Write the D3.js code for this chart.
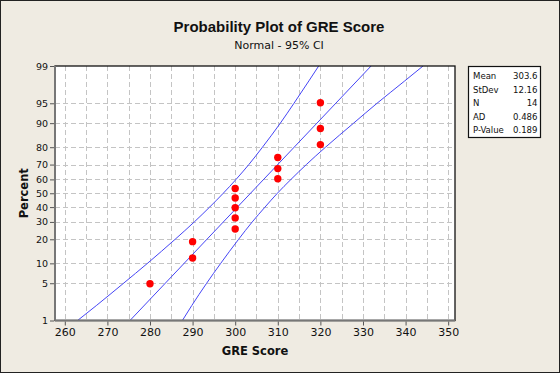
<!DOCTYPE html>
<html>
<head>
<meta charset="utf-8">
<script src="https://cdn.jsdelivr.net/npm/d3@7"></script>
<style>
  html, body { margin: 0; padding: 0; background: #fff; }
  svg { display: block; font-family: "DejaVu Sans", sans-serif; }
</style>
</head>
<body>
<svg class="chart" width="560" height="373"></svg>
<script>
// observed GRE scores and their plotted percents
const scores = [280, 290, 290, 300, 300, 300, 300, 300, 310, 310, 310, 320, 320, 320];
const percents = [4.9, 11.8, 18.8, 25.7, 32.6, 39.6, 46.5, 53.5, 60.4, 67.4, 74.3, 81.3, 88.2, 95.1];

// fitted line ends
const fitPercents = [1, 99];
const fitScores = [275.3, 331.9];

// 95% CI bands
const ciPercents = [1, 2, 5, 10, 20, 30, 40, 50, 60, 70, 80, 90, 95, 98, 99];
const ciLower = [263.0, 267.4, 273.8, 279.4, 285.9, 290.4, 294.0, 297.2, 300.2, 303.2, 306.4, 310.6, 313.8, 317.3, 319.6];
const ciUpper = [287.6, 289.8, 293.3, 296.6, 300.8, 304.0, 307.0, 309.9, 313.1, 316.7, 321.2, 327.8, 333.3, 339.8, 344.1];

const yTicks = [1, 5, 10, 20, 30, 40, 50, 60, 70, 80, 90, 95, 99];
const xTicks = [260, 270, 280, 290, 300, 310, 320, 330, 340, 350];
const xGrid = [260, 265, 270, 275, 280, 285, 290, 295, 300, 305, 310, 315, 320, 325, 330, 335, 340, 345, 350];

const statLabels = ["Mean", "StDev", "N", "AD", "P-Value"];
const statValues = ["303.6", "12.16", "14", "0.486", "0.189"];

// inverse normal cdf (Acklam)
function probit(p) {
  const a = [-39.69683028665376, 220.9460984245205, -275.9285104469687, 138.357751867269, -30.66479806614716, 2.506628277459239];
  const b = [-54.47609879822406, 161.5858368580409, -155.6989798598866, 66.80131188771972, -13.28068155288572];
  const c = [-0.007784894002430293, -0.3223964580411365, -2.400758277161838, -2.549732539343734, 4.374664141464968, 2.938163982698783];
  const d = [0.007784695709041462, 0.3224671290700398, 2.445134137142996, 3.754408661907416];
  const pl = 0.02425;
  let q, r;
  if (p < pl) {
    q = Math.sqrt(-2 * Math.log(p));
    return (((((c[0]*q+c[1])*q+c[2])*q+c[3])*q+c[4])*q+c[5]) / ((((d[0]*q+d[1])*q+d[2])*q+d[3])*q+1);
  } else if (p <= 1 - pl) {
    q = p - 0.5; r = q * q;
    return (((((a[0]*r+a[1])*r+a[2])*r+a[3])*r+a[4])*r+a[5])*q / (((((b[0]*r+b[1])*r+b[2])*r+b[3])*r+b[4])*r+1);
  }
  q = Math.sqrt(-2 * Math.log(1 - p));
  return -(((((c[0]*q+c[1])*q+c[2])*q+c[3])*q+c[4])*q+c[5]) / ((((d[0]*q+d[1])*q+d[2])*q+d[3])*q+1);
}

const svg = d3.select(".chart");
const W = 560, H = 373;
const plot = { left: 55, top: 66, right: 455, bottom: 320.5 };

svg.append("rect")
  .attr("x", 0.5).attr("y", 0.5)
  .attr("width", W - 1).attr("height", H - 1)
  .attr("fill", "#efebe2")
  .attr("stroke", "#222");

const xScale = d3.scaleLinear()
  .domain([257.7, 351.6])
  .range([plot.left, plot.right]);

const zScale = d3.scaleLinear()
  .domain([probit(0.01), probit(0.99)])
  .range([plot.bottom, plot.top]);
const yScale = p => zScale(probit(p / 100));

svg.append("rect")
  .attr("x", plot.left).attr("y", plot.top)
  .attr("width", plot.right - plot.left).attr("height", plot.bottom - plot.top)
  .attr("fill", "#fff");

svg.append("defs").append("clipPath").attr("id", "clip")
  .append("rect")
  .attr("x", plot.left).attr("y", plot.top)
  .attr("width", plot.right - plot.left).attr("height", plot.bottom - plot.top);

// grid
const grid = svg.append("g")
  .attr("stroke", "#c4c4c4")
  .attr("stroke-dasharray", "5,3")
  .attr("stroke-width", 1);

grid.selectAll("line.v")
  .data(xGrid.filter(v => xScale(v) > plot.left + 1 && xScale(v) < plot.right - 1))
  .join("line")
  .attr("class", "v")
  .attr("x1", d => Math.round(xScale(d)) + 0.5)
  .attr("x2", d => Math.round(xScale(d)) + 0.5)
  .attr("y1", plot.top).attr("y2", plot.bottom);

grid.selectAll("line.h")
  .data(yTicks.slice(1, -1))
  .join("line")
  .attr("class", "h")
  .attr("y1", d => Math.round(yScale(d)) + 0.5)
  .attr("y2", d => Math.round(yScale(d)) + 0.5)
  .attr("x1", plot.left).attr("x2", plot.right);

// lines
const lines = svg.append("g").attr("clip-path", "url(#clip)");

const line = d3.line()
  .x(d => xScale(d[0]))
  .y(d => yScale(d[1]))
  .curve(d3.curveMonotoneY);

lines.append("path")
  .datum(fitScores.map((s, i) => [s, fitPercents[i]]))
  .attr("fill", "none")
  .attr("stroke", "#4545f5")
  .attr("stroke-width", 1)
  .attr("d", line);

[ciLower, ciUpper].forEach(arr => {
  lines.append("path")
    .datum(arr.map((s, i) => [s, ciPercents[i]]))
    .attr("fill", "none")
    .attr("stroke", "#4545f5")
    .attr("stroke-width", 1)
    .attr("d", line);
});

// points
svg.append("g")
  .selectAll("circle")
  .data(scores.map((s, i) => ({ x: s, p: percents[i] })))
  .join("circle")
  .attr("cx", d => xScale(d.x))
  .attr("cy", d => yScale(d.p))
  .attr("r", 3.7)
  .attr("fill", "#ff0000");

// frame
svg.append("rect")
  .attr("x", plot.left).attr("y", plot.top)
  .attr("width", plot.right - plot.left).attr("height", plot.bottom - plot.top)
  .attr("fill", "none")
  .attr("stroke", "#111")
  .attr("stroke-width", 1.3);

svg.append("line")
  .attr("x1", plot.left).attr("x2", plot.left)
  .attr("y1", plot.top).attr("y2", plot.bottom)
  .attr("stroke", "#777").attr("stroke-width", 2);
svg.append("line")
  .attr("x1", plot.left).attr("x2", plot.right)
  .attr("y1", plot.bottom).attr("y2", plot.bottom)
  .attr("stroke", "#777").attr("stroke-width", 2);

// axes
const xAxis = d3.axisBottom(xScale)
  .tickValues(xTicks)
  .tickSize(4)
  .tickPadding(3)
  .tickFormat(d3.format("d"));

svg.append("g")
  .attr("transform", `translate(0,${plot.bottom + 1})`)
  .call(xAxis)
  .call(g => g.select(".domain").remove())
  .call(g => g.selectAll("line").attr("stroke", "#555"))
  .call(g => g.selectAll("text")
    .attr("fill", "#111")
    .style("font-family", "DejaVu Sans, sans-serif")
    .style("font-size", "11px"));

const yAxis = d3.axisLeft(zScale)
  .tickValues(yTicks.map(p => probit(p / 100)))
  .tickSize(4)
  .tickPadding(2)
  .tickFormat((d, i) => yTicks[i]);

svg.append("g")
  .attr("transform", `translate(${plot.left - 1},0)`)
  .call(yAxis)
  .call(g => g.select(".domain").remove())
  .call(g => g.selectAll("line").attr("stroke", "#555"))
  .call(g => g.selectAll("text")
    .attr("fill", "#111")
    .style("font-family", "DejaVu Sans, sans-serif")
    .style("font-size", "9.5px"));

// titles
svg.append("text")
  .attr("x", 279).attr("y", 32)
  .attr("text-anchor", "middle")
  .style("font-family", "Liberation Sans, Arial, sans-serif")
  .style("font-weight", "bold")
  .style("font-size", "15px")
  .attr("fill", "#111")
  .text("Probability Plot of GRE Score");

svg.append("text")
  .attr("x", 279).attr("y", 49)
  .attr("text-anchor", "middle")
  .style("font-family", "DejaVu Sans, sans-serif")
  .style("font-size", "11px")
  .attr("fill", "#111")
  .text("Normal - 95% CI");

svg.append("text")
  .attr("x", (plot.left + plot.right) / 2).attr("y", 355)
  .attr("text-anchor", "middle")
  .style("font-family", "DejaVu Sans, sans-serif")
  .style("font-weight", "bold")
  .style("font-size", "11.5px")
  .attr("fill", "#111")
  .text("GRE Score");

svg.append("text")
  .attr("transform", `translate(28,${(plot.top + plot.bottom) / 2}) rotate(-90)`)
  .attr("text-anchor", "middle")
  .style("font-family", "DejaVu Sans, sans-serif")
  .style("font-weight", "bold")
  .style("font-size", "11.5px")
  .attr("fill", "#111")
  .text("Percent");

// stats box
const box = svg.append("g").attr("transform", "translate(468,66)");
box.append("rect")
  .attr("x", 0.5).attr("y", 0.5)
  .attr("width", 72).attr("height", 71)
  .attr("fill", "#fff")
  .attr("stroke", "#111")
  .attr("stroke-width", 1.2);

box.selectAll("text.lab")
  .data(statLabels)
  .join("text")
  .attr("class", "lab")
  .attr("x", 5)
  .attr("y", (d, i) => 13 + i * 13.5)
  .style("font-family", "DejaVu Sans Condensed, Liberation Sans, sans-serif")
  .style("font-size", "9.5px")
  .attr("fill", "#111")
  .text(d => d);

box.selectAll("text.val")
  .data(statValues)
  .join("text")
  .attr("class", "val")
  .attr("x", 69.5)
  .attr("y", (d, i) => 13 + i * 13.5)
  .attr("text-anchor", "end")
  .style("font-family", "DejaVu Sans Condensed, Liberation Sans, sans-serif")
  .style("font-size", "9.5px")
  .attr("fill", "#111")
  .text(d => d);
</script>
</body>
</html>
